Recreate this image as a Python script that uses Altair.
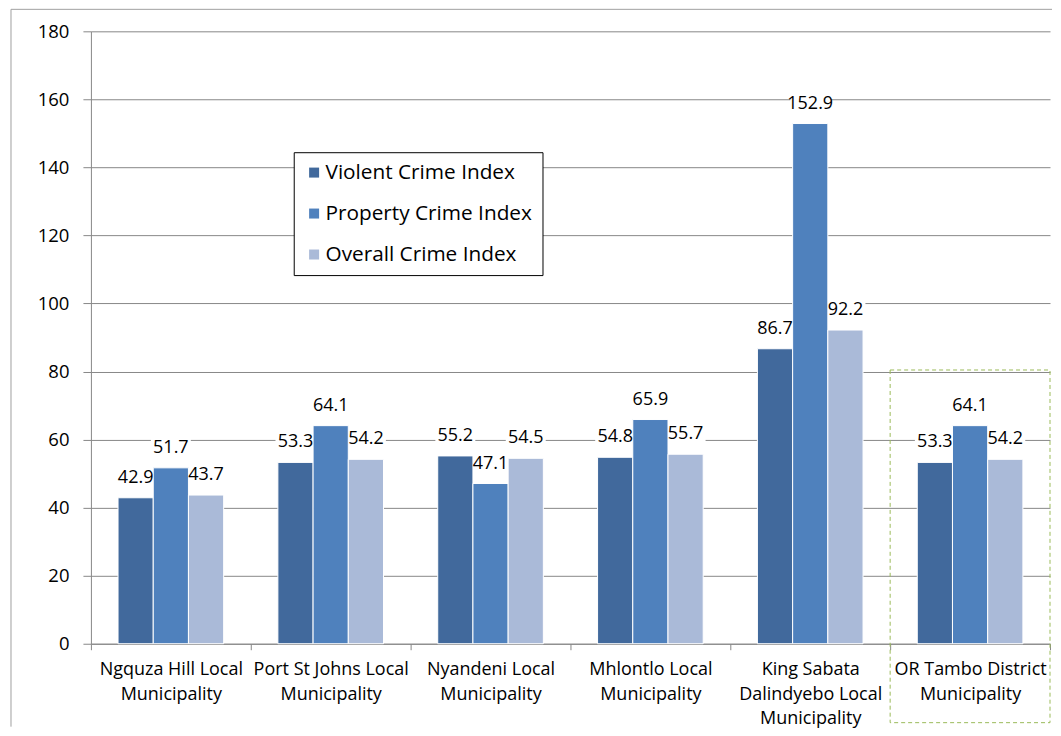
import altair as alt
import pandas as pd

# ---- data ----
category_lines = [
    ["Ngquza Hill Local", "Municipality"],
    ["Port St Johns Local", "Municipality"],
    ["Nyandeni Local", "Municipality"],
    ["Mhlontlo Local", "Municipality"],
    ["King Sabata", "Dalindyebo Local", "Municipality"],
    ["OR Tambo District", "Municipality"],
]
categories = ["\n".join(l) for l in category_lines]
series = ["Violent Crime Index", "Property Crime Index", "Overall Crime Index"]
violent = [42.9, 53.3, 55.2, 54.8, 86.7, 53.3]
property_ = [51.7, 64.1, 47.1, 65.9, 152.9, 64.1]
overall = [43.7, 54.2, 54.5, 55.7, 92.2, 54.2]
colors = ["#41699c", "#4f81bd", "#aabad8"]
y_ticks = list(range(0, 181, 20))
highlight = "OR Tambo District\nMunicipality"

rows = []
for s, vals in zip(series, [violent, property_, overall]):
    for c, v in zip(categories, vals):
        rows.append({"cat": c, "series": s, "value": v, "label": f"{v:.1f}"})
df = pd.DataFrame(rows)

W, H = 960, 613
FONT = "Open Sans"

x_enc = alt.X("cat:N", sort=categories, title=None,
              scale=alt.Scale(paddingInner=0, paddingOuter=0),
              axis=alt.Axis(labelExpr="split(datum.label, '\\n')", labelAngle=0,
                            labelFontSize=18, labelLineHeight=24.5, labelColor="#000",
                            labelFont=FONT, labelPadding=11, tickBand="extent",
                            tickSize=6, tickColor="#888", domainColor="#888",
                            labelLimit=200, grid=False))
xo_enc = alt.XOffset("series:N", sort=series,
                     scale=alt.Scale(paddingOuter=0.77, paddingInner=0))
y_enc = alt.Y("value:Q", title=None,
              scale=alt.Scale(domain=[0, 180], nice=False),
              axis=alt.Axis(values=y_ticks, labelFontSize=18.5, labelFont=FONT,
                            labelColor="#000", labelPadding=14, tickSize=8,
                            tickColor="#888", domainColor="#888",
                            gridColor="#888", gridWidth=1))

base = alt.Chart(df)

bg = base.mark_point(
    shape="M-1,-0.5L1,-0.5L1,0.5L-1,0.5Z", size=1600,
    filled=True, color="white", opacity=1, yOffset=-20
).encode(x=x_enc, xOffset=xo_enc, y=y_enc)

bars = base.mark_bar(stroke="white", strokeWidth=1).encode(
    x=x_enc, xOffset=xo_enc, y=y_enc,
    color=alt.Color("series:N", sort=series,
                    scale=alt.Scale(domain=series, range=colors),
                    legend=alt.Legend(title=None, orient="none", legendX=203,
                                      legendY=121, strokeColor="black",
                                      fillColor="white", padding=10,
                                      symbolType="square", symbolSize=100,
                                      symbolStrokeWidth=0, labelFontSize=20.8,
                                      labelFont=FONT, labelColor="#000",
                                      rowPadding=19, labelLimit=300,
                                      labelOffset=1)),
)

labels = base.mark_text(fontSize=18, font=FONT, color="#000",
                        baseline="middle", yOffset=-20).encode(
    x=x_enc, xOffset=xo_enc, y=y_enc, text="label:N")

box = alt.Chart(pd.DataFrame({"cat": [highlight]})).mark_rect(
    fill=None, fillOpacity=0, stroke="#9bbb59", strokeWidth=1, strokeDash=[4, 3]
).encode(x=alt.X("cat:N", sort=categories), y=alt.value(339), y2=alt.value(692))

one = alt.Data(values=[{}])
border_left = alt.Chart(one).mark_rule(color="#a0a0a0", strokeWidth=1).encode(
    x=alt.value(-80), y=alt.value(-22), y2=alt.value(696))
border_top = alt.Chart(one).mark_rule(color="#a0a0a0", strokeWidth=1).encode(
    x=alt.value(-80), x2=alt.value(962), y=alt.value(-22))

chart = alt.layer(bg, bars, labels, box, border_left, border_top).properties(
    width=W, height=H,
    padding={"left": 2, "top": 0, "right": 0, "bottom": 0},
).configure_view(stroke=None)

chart.save("out.html", embed_options={"renderer": "svg", "actions": False})
